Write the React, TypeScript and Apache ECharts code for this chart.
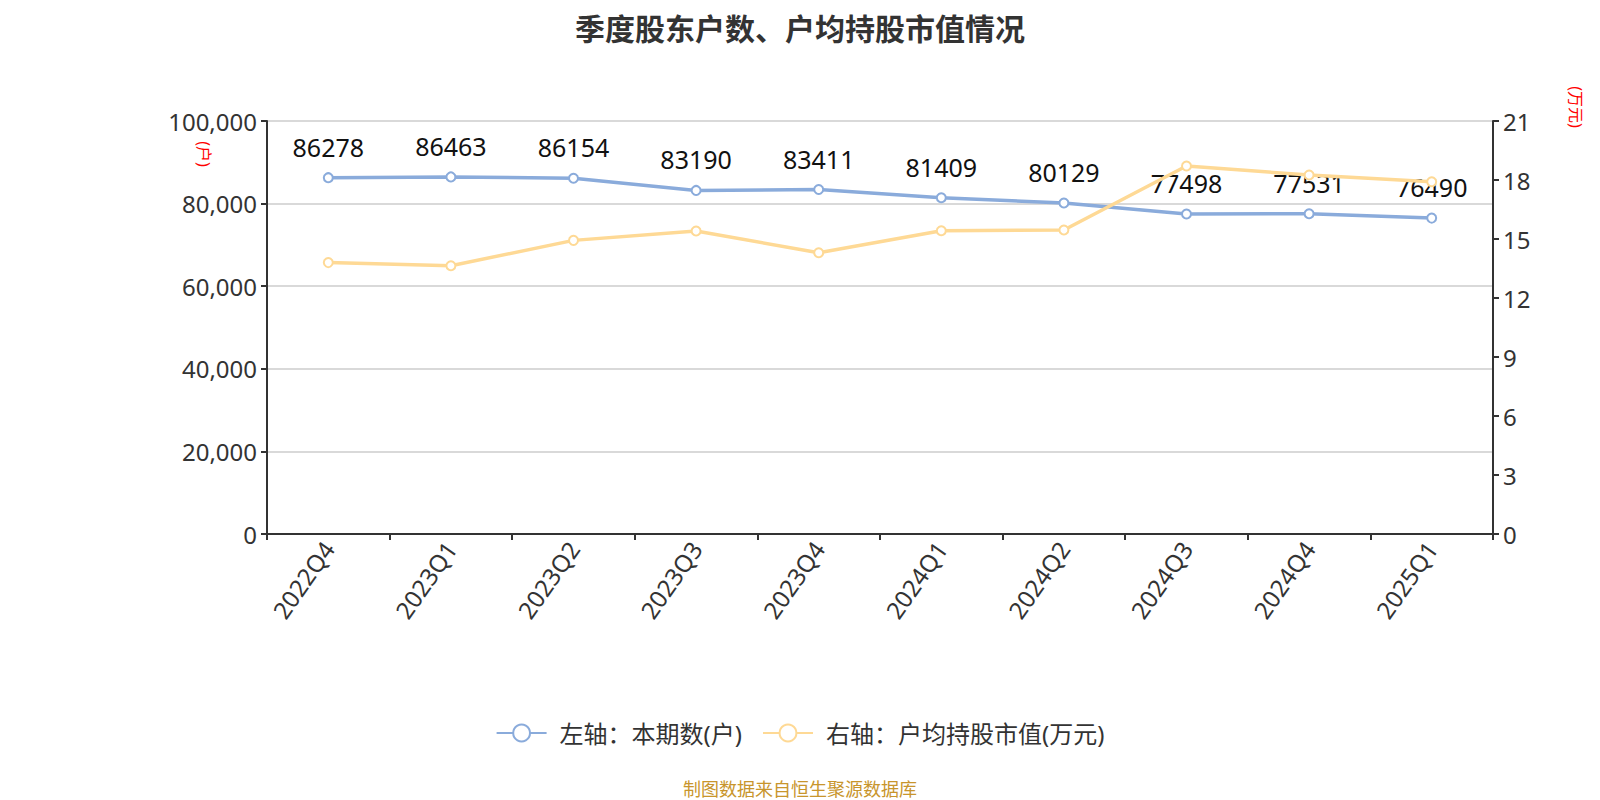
import React, { useEffect, useRef } from "react";
import * as echarts from "echarts";

const categories = ["2022Q4", "2023Q1", "2023Q2", "2023Q3", "2023Q4", "2024Q1", "2024Q2", "2024Q3", "2024Q4", "2025Q1"];
const holders = [86278, 86463, 86154, 83190, 83411, 81409, 80129, 77498, 77531, 76490];
const avgValue = [13.8, 13.64, 14.93, 15.41, 14.3, 15.42, 15.46, 18.71, 18.25, 17.91];
const seriesNames = ["左轴：本期数(户)", "右轴：户均持股市值(万元)"];
const titleText = "季度股东户数、户均持股市值情况";
const footerText = "制图数据来自恒生聚源数据库";

const FONT = "'Noto Sans', 'Noto Sans CJK SC', sans-serif";

export default function App() {
  const ref = useRef<HTMLDivElement>(null);
  useEffect(() => {
    if (!ref.current) return;
    const chart = echarts.init(ref.current, null, { renderer: "svg" });
    chart.setOption({
      animation: false,
      backgroundColor: "#fff",
      textStyle: { fontFamily: FONT },
      title: {
        text: titleText,
        left: "center",
        top: 8,
        textStyle: { fontSize: 30, fontWeight: "bold", color: "#333", fontFamily: FONT },
      },
      legend: {
        bottom: 50,
        left: "center",
        itemWidth: 50,
        itemHeight: 21,
        itemGap: 20,
        textStyle: { fontSize: 24, color: "#333", fontFamily: FONT, padding: [0, 0, 0, 8] },
        data: seriesNames,
      },
      grid: { left: 267, right: 107, top: 121, bottom: 266, containLabel: false },
      xAxis: {
        type: "category",
        data: categories,
        boundaryGap: true,
        axisLine: { lineStyle: { color: "#333", width: 2 } },
        axisTick: { show: true, length: 6, lineStyle: { color: "#333", width: 2 } },
        axisLabel: { rotate: 55, fontSize: 24, color: "#333", margin: 10 },
      },
      yAxis: [
        {
          type: "value",
          min: 0,
          max: 100000,
          interval: 20000,
          axisLine: { show: true, lineStyle: { color: "#333", width: 2 } },
          axisTick: { show: true, length: 6, lineStyle: { color: "#333", width: 2 } },
          axisLabel: {
            fontSize: 24,
            color: "#333",
            margin: 10,
            formatter: (v: number) => v.toLocaleString("en-US"),
          },
          splitLine: { lineStyle: { color: "#ccc", width: 1.5 } },
        },
        {
          type: "value",
          min: 0,
          max: 21,
          interval: 3,
          position: "right",
          axisLine: { show: true, lineStyle: { color: "#333", width: 2 } },
          axisTick: { show: true, length: 6, lineStyle: { color: "#333", width: 2 } },
          axisLabel: { fontSize: 24, color: "#333", margin: 10 },
          splitLine: { show: false },
        },
      ],
      graphic: [
        {
          type: "text",
          x: 204,
          y: 154,
          rotation: -Math.PI / 2,
          style: { text: "(户)", fill: "red", fontSize: 16, fontFamily: FONT, textAlign: "center", textVerticalAlign: "middle" },
        },
        {
          type: "text",
          x: 1576,
          y: 107,
          rotation: -Math.PI / 2,
          style: { text: "(万元)", fill: "red", fontSize: 16, fontFamily: FONT, textAlign: "center", textVerticalAlign: "middle" },
        },
        {
          type: "text",
          x: 800,
          y: 789,
          style: { text: footerText, fill: "#c8952c", fontSize: 18, fontFamily: FONT, textAlign: "center", textVerticalAlign: "middle" },
        },
      ],
      series: [
        {
          name: seriesNames[0],
          type: "line",
          yAxisIndex: 0,
          data: holders,
          symbol: "circle",
          symbolSize: 9,
          itemStyle: { color: "#fff", borderColor: "#8aabdb", borderWidth: 2 },
          lineStyle: { color: "#8aabdb", width: 3.5 },
          label: { show: true, position: "top", distance: 13, fontSize: 25, color: "#111", fontFamily: FONT },
          z: 2,
        },
        {
          name: seriesNames[1],
          type: "line",
          yAxisIndex: 1,
          data: avgValue,
          symbol: "circle",
          symbolSize: 9,
          itemStyle: { color: "#fff", borderColor: "#fed995", borderWidth: 2 },
          lineStyle: { color: "#fed995", width: 3.5 },
          label: { show: false },
          z: 3,
        },
      ],
    });
    return () => chart.dispose();
  }, []);
  return (
    <div
      ref={ref}
      style={{ position: "fixed", left: 0, top: 0, width: 1600, height: 800, background: "#fff" }}
    />
  );
}
